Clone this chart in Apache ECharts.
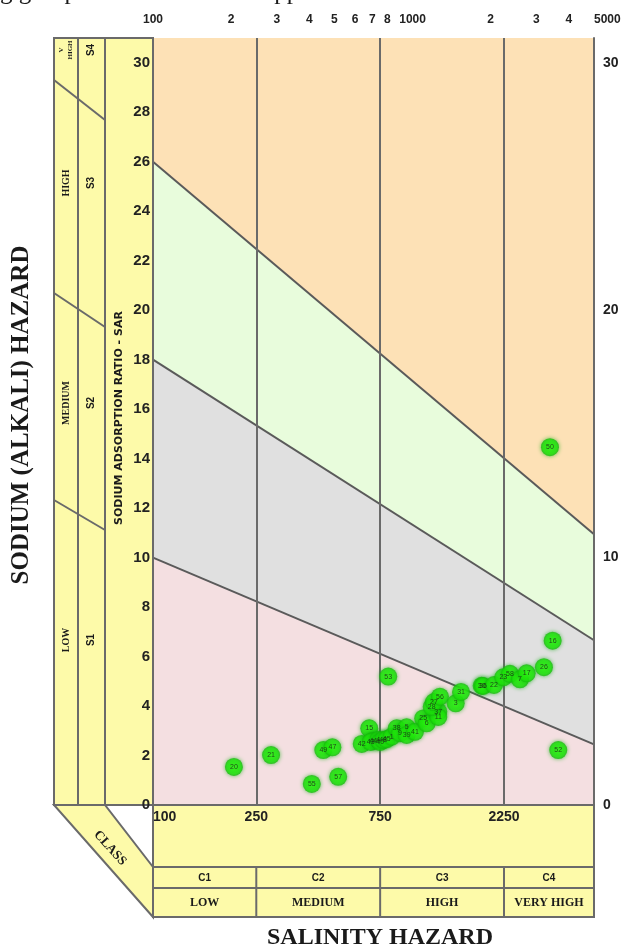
<!DOCTYPE html>
<html>
<head>
<meta charset="utf-8">
<script src="https://cdn.jsdelivr.net/npm/echarts@6/dist/echarts.min.js"></script>
<style>
html, body { margin: 0; padding: 0; background: #fff; }
#chart { width: 632px; height: 950px; }
</style>
</head>
<body>
<div id="chart"></div>
<script>
// salinity classes, EC in micromhos/cm
const classEdges = [100, 250, 750, 2250, 5000];
const classCodes = ['C1', 'C2', 'C3', 'C4'];
const classNames = ['LOW', 'MEDIUM', 'HIGH', 'VERY HIGH'];
const bottomTicks = [100, 250, 750, 2250];
const topTicks = [100, 200, 300, 400, 500, 600, 700, 800, 1000, 2000, 3000, 4000, 5000];
const topTickLabels = ['100', '2', '3', '4', '5', '6', '7', '8', '1000', '2', '3', '4', '5000'];

// sodium hazard boundaries (EC, SAR)
const lineS1S2 = [[100, 10], [5000, 2.45]];
const lineS2S3 = [[100, 18], [5000, 6.66]];
const lineS3S4 = [[100, 26], [5000, 10.94]];

// samples
const sampleIds = ['20', '21', '55', '57', '49', '47', '42', '15', '53', '44', '43', '4', '40', '48', '45',
    '1', '38', '9', '5', '39', '41', '25', '6', '37', '11', '28', '27', '56', '3', '31', '30', '36',
    '22', '23', '58', '7', '17', '26', '16', '50', '52'];
const sampleEC = [205, 285, 409, 517, 453, 491, 637, 681, 806, 706, 690, 738, 750, 771, 795,
    831, 869, 894, 949, 949, 1021, 1099, 1133, 1256, 1256, 1185, 1209, 1275, 1466, 1537, 1846, 1868,
    2059, 2236, 2372, 2593, 2751, 3207, 3465, 3383, 3641];
const sampleSAR = [1.54, 2.02, 0.85, 1.14, 2.22, 2.33, 2.47, 3.10, 5.19, 2.60, 2.55, 2.63, 2.55, 2.63, 2.66,
    2.76, 3.10, 2.90, 3.14, 2.83, 2.96, 3.50, 3.30, 3.77, 3.56, 3.97, 4.16, 4.38, 4.11, 4.57, 4.82, 4.81,
    4.85, 5.16, 5.30, 5.08, 5.32, 5.57, 6.64, 14.46, 2.22];

const yellow = '#fdfaa9';
const edge = '#6a6a6a';
const numFont = '"Liberation Sans", Arial, sans-serif';
const serifFont = '"Liberation Serif", "Times New Roman", serif';

var chart = echarts.init(document.getElementById('chart'));

function areaSeries(data, color) {
    return {
        type: 'line',
        data: data,
        symbol: 'none',
        silent: true,
        z: 1,
        lineStyle: {color: '#5a5a5a', width: 2},
        areaStyle: {color: color, opacity: 1, origin: 'start'}
    };
}

var option = {
    animation: false,
    grid: {
        left: 153, right: 38, top: 38, bottom: 145,
        show: true,
        backgroundColor: '#fde1b6',
        borderWidth: 0,
        outerBoundsMode: 'none'
    },
    xAxis: [
        {
            type: 'log', min: 100, max: 5000, position: 'bottom', z: 10,
            axisLine: {show: true, lineStyle: {color: edge, width: 2}},
            axisTick: {show: false},
            splitLine: {show: false},
            axisLabel: {
                customValues: bottomTicks,
                margin: 5,
                alignMinLabel: 'left',
                color: '#222', fontWeight: 'bold', fontSize: 14, fontFamily: numFont,
                formatter: (v) => String(Math.round(v))
            }
        },
        {
            type: 'log', min: 100, max: 5000, position: 'top', z: 10,
            axisLine: {show: true, lineStyle: {color: edge, width: 2}},
            axisTick: {show: false},
            splitLine: {show: false},
            axisLabel: {
                customValues: topTicks,
                margin: 12,
                alignMaxLabel: 'left',
                color: '#222', fontWeight: 'bold', fontSize: 12, fontFamily: numFont,
                formatter: (v) => {
                    let i = topTicks.findIndex(t => Math.abs(t - v) < t * 1e-6);
                    return i < 0 ? '' : topTickLabels[i];
                }
            }
        }
    ],
    yAxis: [
        {
            type: 'value', min: 0, max: 31, interval: 2, position: 'left', z: 10,
            axisLine: {show: true, lineStyle: {color: edge, width: 2}},
            axisTick: {show: false},
            splitLine: {show: false},
            axisLabel: {
                margin: 3, showMaxLabel: false,
                color: '#222', fontWeight: 'bold', fontSize: 15, fontFamily: numFont
            }
        },
        {
            type: 'value', min: 0, max: 31, interval: 10, position: 'right', z: 10,
            axisLine: {show: true, lineStyle: {color: edge, width: 2}},
            axisTick: {show: false},
            splitLine: {show: false},
            axisLabel: {
                margin: 9, showMaxLabel: false,
                color: '#222', fontWeight: 'bold', fontSize: 14, fontFamily: numFont
            }
        }
    ],
    series: [
        areaSeries(lineS3S4, '#e8fcdc'),
        areaSeries(lineS2S3, '#e0e0e0'),
        Object.assign(areaSeries(lineS1S2, '#f4dfe1'), {
            markLine: {
                silent: true,
                symbol: 'none',
                label: {show: false},
                lineStyle: {color: edge, width: 2, type: 'solid'},
                data: classEdges.slice(1, 4).map(v => ({xAxis: v}))
            }
        }),
        {
            type: 'scatter',
            z: 10,
            symbolSize: 18,
            data: sampleEC.map((ec, i) => [ec, sampleSAR[i]]),
            itemStyle: {
                color: {
                    type: 'radial', x: 0.5, y: 0.5, r: 0.5,
                    colorStops: [
                        {offset: 0, color: '#30ff10'},
                        {offset: 0.75, color: '#1ee60a'},
                        {offset: 1, color: '#14b80a'}
                    ]
                },
                shadowBlur: 4,
                shadowColor: 'rgba(10,170,10,0.8)'
            },
            label: {
                show: true,
                position: 'inside',
                formatter: (p) => sampleIds[p.dataIndex],
                fontSize: 7,
                color: '#1a1a1a',
                fontFamily: numFont
            }
        }
    ]
};

chart.setOption(option);

// frame panels around the plot
const gx = v => chart.convertToPixel({xAxisIndex: 0}, v);
const gy = v => chart.convertToPixel({yAxisIndex: 0}, v);
const pLeft = gx(100), pRight = gx(5000), pTop = gy(31), pBase = gy(0);
const colA = 54, colB = 78, colC = 105;
const rowC = 867, rowN = 888, rowEnd = 917;

function seg(x1, y1, x2, y2) {
    return {type: 'line', z: 2, shape: {x1: x1, y1: y1, x2: x2, y2: y2}, style: {stroke: edge, lineWidth: 2}};
}
function txt(x, y, s, font, rot, extra) {
    return {
        type: 'text', z: 30, x: x, y: y, rotation: rot || 0,
        style: Object.assign({text: s, font: font, fill: '#1a1a1a', align: 'center', verticalAlign: 'middle'}, extra || {})
    };
}

let g = [];
g.push(txt(0, 5, 'g group was of the low to upper medium hazard level as well as', '25px ' + serifFont, 0,
    {align: 'left', verticalAlign: 'bottom'}));
// left panels
g.push({type: 'rect', z: 1, shape: {x: colA, y: pTop, width: pLeft - colA, height: pBase - pTop},
    style: {fill: yellow, stroke: edge, lineWidth: 2}});
g.push(seg(colB, pTop, colB, pBase));
g.push(seg(colC, pTop, colC, pBase));
g.push(seg(colA, 80, colC, 120));
g.push(seg(colA, 293, colC, 327));
g.push(seg(colA, 500, colC, 530));
// bottom panel
g.push({type: 'polygon', z: 1, shape: {points: [[colA, pBase], [colC, pBase], [pLeft, rowC], [pLeft, rowEnd]]},
    style: {fill: yellow, stroke: edge, lineWidth: 2}});
g.push({type: 'rect', z: 1, shape: {x: pLeft, y: pBase, width: pRight - pLeft, height: rowEnd - pBase},
    style: {fill: yellow, stroke: edge, lineWidth: 2}});
g.push(seg(pLeft, rowC, pRight, rowC));
g.push(seg(pLeft, rowN, pRight, rowN));
classEdges.slice(1, 4).forEach(v => g.push(seg(gx(v), rowC, gx(v), rowEnd)));
classCodes.forEach((c, i) => {
    let cx = (gx(classEdges[i]) + gx(classEdges[i + 1])) / 2;
    g.push(txt(cx, (rowC + rowN) / 2 + 1, c, 'bold 10px ' + numFont));
    g.push(txt(cx, (rowN + rowEnd) / 2, classNames[i], 'bold 12px ' + serifFont));
});
g.push(txt(110, 848, 'CLASS', 'bold 13px ' + serifFont, -0.84));

// left panel labels
const hazardRows = [['LOW', 'S1', 640], ['MEDIUM', 'S2', 403], ['HIGH', 'S3', 183]];
hazardRows.forEach(r => {
    g.push(txt((colA + colB) / 2, r[2], r[0], 'bold 10px ' + serifFont, Math.PI / 2));
    g.push(txt((colB + colC) / 2, r[2], r[1], 'bold 10px ' + numFont, Math.PI / 2));
});
g.push(txt((colA + colB) / 2, 50, 'V\nHIGH', 'bold 7px ' + serifFont, Math.PI / 2, {lineHeight: 9}));
g.push(txt((colB + colC) / 2, 50, 'S4', 'bold 10px ' + numFont, Math.PI / 2));
g.push(txt(119, 418, 'SODIUM ADSORPTION RATIO - SAR', 'bold 11px "DejaVu Sans", sans-serif', Math.PI / 2));

// titles
g.push(txt(22, 415, 'SODIUM (ALKALI) HAZARD', 'bold 25px ' + serifFont, Math.PI / 2));
g.push(txt(380, 938, 'SALINITY HAZARD', 'bold 24px ' + serifFont));

chart.setOption({graphic: g});
</script>
</body>
</html>
